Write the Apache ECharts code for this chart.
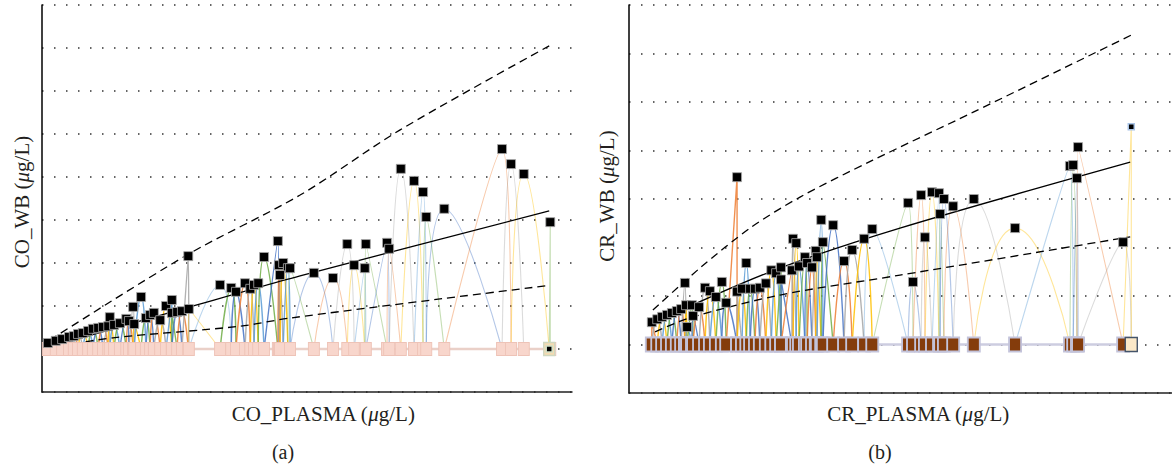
<!DOCTYPE html>
<html><head><meta charset="utf-8">
<script src="https://cdn.jsdelivr.net/npm/echarts@6/dist/echarts.min.js"></script>
<style>html,body{margin:0;padding:0;background:#fff}#c{width:1172px;height:465px}</style>
</head><body><div id="c"></div>
<script>
// ---- Panel (a): cobalt ----
const coX = [1.1,2.6,3.8,5.1,6.0,6.8,7.7,8.7,9.6,10.6,11.5,12.5,12.8,13.6,14.7,15.9,16.4,17.2,17.4,18.7,19.6,20.4,21.1,22.3,23.4,24.5,24.5,25.5,26.4,27.6,27.7,33.6,35.7,36.6,38.3,39.3,40.0,40.8,41.9,44.5,44.7,45.5,46.4,44.9,46.8,51.3,54.9,57.6,58.9,60.9,61.1,65.1,65.5,67.7,70.2,71.9,72.5,75.9,86.8,88.5,90.9,95.9,95.7];
const coY = [0.14,0.19,0.23,0.28,0.30,0.35,0.37,0.42,0.47,0.49,0.51,0.53,0.74,0.56,0.60,0.70,0.65,0.98,0.58,1.21,0.72,0.79,0.84,0.67,1.00,1.14,0.84,0.86,0.88,2.16,0.93,1.49,1.42,1.33,1.53,1.40,1.49,1.53,2.14,2.51,1.95,2.00,1.88,1.72,1.88,1.77,1.65,2.44,1.95,1.88,2.44,2.47,2.33,4.19,3.91,3.65,3.07,3.26,4.65,4.30,4.07,2.95,0];
const coUpX = [1.5,27.4,48.7,67.5,95.7];
const coUpY = [0.21,2.19,3.58,5.09,7.05];
const coFitX = [1.5,27.9,48.7,95.7];
const coFitY = [0.05,0.98,1.70,3.21];
const coLoX = [3.4,13.4,37.4,46.8,95.1];
const coLoY = [0.07,0.26,0.53,0.72,1.47];

// ---- Panel (b): chromium ----
const crX = [4.2,5.2,6.1,7.0,7.9,8.8,9.6,10.3,10.5,10.7,11.6,11.8,12.9,14.0,14.9,16.0,17.1,17.9,19.9,19.9,20.8,21.6,22.3,23.2,24.1,25.2,26.2,27.1,28.0,28.0,30.0,30.2,30.8,31.3,32.4,32.8,33.7,34.4,34.6,35.4,35.7,37.6,39.6,41.1,43.3,44.8,51.4,52.3,53.8,54.5,55.8,57.1,57.3,58.0,59.7,63.5,71.1,81.2,81.8,82.5,82.7,91.0,92.5];
const crY = [0.46,0.52,0.57,0.61,0.65,0.69,0.73,1.27,0.81,0.36,0.81,0.59,0.77,1.17,1.10,0.98,1.29,0.86,3.45,1.09,1.15,1.68,1.15,1.15,1.17,1.26,1.53,1.47,1.59,1.34,1.53,2.18,2.09,1.61,1.80,1.68,1.59,1.93,1.80,2.57,2.11,2.46,1.72,1.95,2.18,2.38,2.92,1.29,3.08,2.21,3.14,3.12,2.69,3.00,2.85,3.00,2.40,3.68,3.70,3.43,4.07,2.11,4.49];
const crUpX = [4.4,13.1,22.3,31.5,44.9,63.4,92.5];
const crUpY = [0.71,1.58,2.40,3.04,3.80,4.79,6.38];
const crFitX = [3.9,26.5,49.9,92.3];
const crFitY = [0.42,1.52,2.40,3.76];
const crLoX = [4.8,11.2,27.8,49.9,92.3];
const crLoY = [0.26,0.55,1.02,1.43,2.22];

// ---- Texts ----
const yNames = ['CO_WB', 'CR_WB'];
const xNames = ['CO_PLASMA', 'CR_PLASMA'];
const unitText = ['(', 'μ', 'g/L)'];
const captions = ['(a)', '(b)'];

const palette = ['#4472c4','#ed7d31','#a5a5a5','#ffc000','#5b9bd5','#70ad47'];
const FONT = '"Liberation Serif","DejaVu Serif",serif';

function zip(a, b) { return a.map((v, i) => [v, b[i]]); }

function panelSeries(g, xs, ys, upX, upY, fitX, fitY, loX, loY, st) {
  const s = [];
  const order = xs.map((_, i) => i).sort((a, b) => xs[a] - xs[b]);
  order.forEach((idx, k) => {
    const xl = k > 0 ? xs[order[k - 1]] : xs[idx];
    const xr = k < order.length - 1 ? xs[order[k + 1]] : xs[idx];
    const strong = (xr - xl) < 4 && xs[idx] < 50;
    s.push({
      type: 'line', xAxisIndex: g, yAxisIndex: g, silent: true, smooth: 0.6,
      showSymbol: false, symbol: 'none', z: 1, animation: false,
      data: [[xl, 0], [xs[idx], ys[idx]], [xr, 0]],
      lineStyle: { color: palette[(k + st.colorOffset) % 6], width: strong ? 1.4 : 1.1, opacity: strong ? 0.85 : 0.4 }
    });
  });
  const xmin = Math.min(...xs), xmax = Math.max(...xs);
  s.push({
    type: 'line', xAxisIndex: g, yAxisIndex: g, silent: true, symbol: 'none', z: 2,
    data: [[xmin, 0], [xmax, 0]], lineStyle: { color: st.base, width: 2.5 }
  });
  const ln = (xa, ya, type) => ({
    type: 'line', xAxisIndex: g, yAxisIndex: g, silent: true, smooth: 0.3, symbol: 'none', z: 5,
    data: zip(xa, ya), lineStyle: { color: '#000', width: 1.3, type: type }
  });
  s.push(ln(upX, upY, [8, 5]), ln(fitX, fitY, 'solid'), ln(loX, loY, [8, 5]));
  const last = xs.length - 1;
  s.push({
    type: 'scatter', xAxisIndex: g, yAxisIndex: g, silent: true, z: 6,
    symbol: 'rect', symbolSize: st.rugSize,
    data: xs.map((x, i) => i === last
      ? { value: [x, 0], itemStyle: { color: st.lastRug, borderColor: st.lastRugBorder, borderWidth: 1.5, opacity: 1 } }
      : [x, 0]),
    itemStyle: { color: st.rug, borderColor: st.rugBorder, borderWidth: st.rugBw, opacity: 1 }
  });
  s.push({
    type: 'scatter', xAxisIndex: g, yAxisIndex: g, silent: true, z: 10,
    symbol: 'rect', symbolSize: 9,
    data: xs.map((x, i) => i === last
      ? { value: [x, ys[i]], symbolSize: 6, itemStyle: { color: '#000', borderColor: st.lastBorder, borderWidth: 1.5, opacity: 1 } }
      : [x, ys[i]]),
    itemStyle: { color: '#000', borderColor: '#a8a8a8', borderWidth: 0.8, opacity: 1 }
  });
  return s;
}

function labelText(name, x, y, rot) {
  return {
    type: 'text', x: x, y: y, rotation: rot, silent: true,
    style: {
      text: '{n|' + name + ' ' + unitText[0] + '}{m|' + unitText[1] + '}{n|' + unitText[2] + '}',
      rich: {
        n: { fontFamily: FONT, fontSize: 21, fill: '#231f20' },
        m: { fontFamily: FONT, fontSize: 21, fontStyle: 'italic', fill: '#231f20' }
      },
      fontFamily: FONT, fontSize: 21, align: 'center', verticalAlign: 'middle'
    }
  };
}

function yAx(g, max) {
  return {
    gridIndex: g, type: 'value', min: -1, max: max, interval: 1,
    axisLabel: { show: false }, axisTick: { show: false },
    axisLine: { show: true, lineStyle: { color: '#000', width: 1.5 } },
    splitLine: { show: true, lineStyle: { color: '#333', width: 1.5, type: [1.5, 10.5] } }
  };
}
function xAx(g) {
  return {
    gridIndex: g, type: 'value', min: 0, max: 100,
    axisLabel: { show: false }, axisTick: { show: false }, splitLine: { show: false },
    axisLine: { show: true, onZero: false, lineStyle: { color: '#222', width: 1.5 } }
  };
}

const chart = echarts.init(document.getElementById('c'), null, { renderer: 'svg' });
const series = [].concat(
  panelSeries(0, coX, coY, coUpX, coUpY, coFitX, coFitY, coLoX, coLoY, {
    base: '#ead0c8', rug: '#f8d6cc', rugBorder: '#eec3b7', rugBw: 1, rugSize: [11, 13],
    lastRug: '#f4dbb2', lastRugBorder: '#cfd8c0', lastBorder: '#cfe0c8', colorOffset: 3
  }),
  panelSeries(1, crX, crY, crUpX, crUpY, crFitX, crFitY, crLoX, crLoY, {
    base: '#cdcde0', rug: '#843c0c', rugBorder: '#c3c3da', rugBw: 2, rugSize: [12, 14],
    lastRug: '#fbe8c8', lastRugBorder: '#44546a', lastBorder: '#aac4e6', colorOffset: 1
  })
);

chart.setOption({
  animation: false,
  backgroundColor: '#fff',
  grid: [
    { left: 42, top: 5, width: 530, height: 387 },
    { left: 629, top: 5, width: 543, height: 388 }
  ],
  xAxis: [xAx(0), xAx(1)],
  yAxis: [yAx(0, 8), yAx(1, 7)],
  series: series,
  graphic: [
    labelText(yNames[0], 22, 202, Math.PI / 2),
    labelText(yNames[1], 607, 196, Math.PI / 2),
    labelText(xNames[0], 323, 414, 0),
    labelText(xNames[1], 918, 414, 0),
    { type: 'text', x: 283, y: 452, silent: true,
      style: { text: captions[0], fontFamily: FONT, fontSize: 20, fill: '#231f20', align: 'center', verticalAlign: 'middle' } },
    { type: 'text', x: 880, y: 452, silent: true,
      style: { text: captions[1], fontFamily: FONT, fontSize: 20, fill: '#231f20', align: 'center', verticalAlign: 'middle' } }
  ]
});
</script></body></html>
